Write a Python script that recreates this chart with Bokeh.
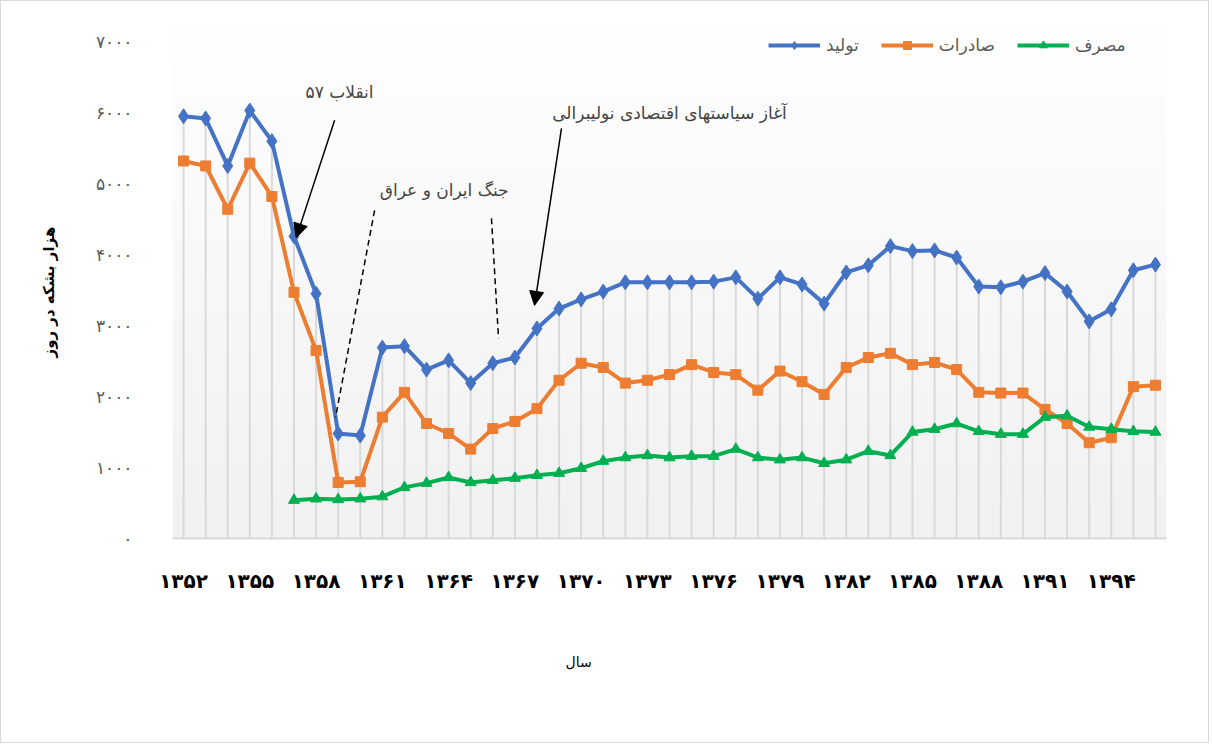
import numpy as np
from bokeh.plotting import figure
from bokeh.models import (Legend, LegendItem, Label, Arrow, NormalHead, Range1d,
                          FixedTicker, Title)
from bokeh.embed import file_html
from bokeh.resources import INLINE

# ---------------- data ----------------
years = [1352, 1353, 1354, 1355, 1356, 1357, 1358, 1359, 1360, 1361, 1362, 1363,
         1364, 1365, 1366, 1367, 1368, 1369, 1370, 1371, 1372, 1373, 1374, 1375,
         1376, 1377, 1378, 1379, 1380, 1381, 1382, 1383, 1384, 1385, 1386, 1387,
         1388, 1389, 1390, 1391, 1392, 1393, 1394, 1395, 1396]
production = [5950, 5920, 5250, 6030, 5600, 4260, 3450, 1480, 1450, 2690, 2710, 2380,
              2510, 2190, 2470, 2550, 2960, 3240, 3370, 3480, 3610, 3610, 3610, 3610,
              3620, 3680, 3380, 3680, 3580, 3310, 3750, 3850, 4120, 4050, 4060, 3960,
              3550, 3540, 3620, 3740, 3480, 3060, 3230, 3780, 3860]
exports = [5320, 5250, 4640, 5290, 4820, 3470, 2650, 790, 800, 1710, 2060, 1620,
           1480, 1260, 1550, 1650, 1830, 2230, 2470, 2410, 2190, 2230, 2310, 2450,
           2340, 2310, 2090, 2360, 2210, 2030, 2410, 2550, 2610, 2450, 2480, 2380,
           2060, 2050, 2050, 1820, 1620, 1350, 1420, 2140, 2160]
consumption_years = [1357, 1358, 1359, 1360, 1361, 1362, 1363, 1364, 1365, 1366,
                     1367, 1368, 1369, 1370, 1371, 1372, 1373, 1374, 1375, 1376,
                     1377, 1378, 1379, 1380, 1381, 1382, 1383, 1384, 1385, 1386,
                     1387, 1388, 1389, 1390, 1391, 1392, 1393, 1394, 1395, 1396]
consumption = [540, 560, 550, 560, 590, 720, 780, 860, 790, 820,
               850, 890, 920, 990, 1090, 1140, 1170, 1140, 1160, 1160,
               1260, 1140, 1110, 1140, 1060, 1110, 1230, 1170, 1500, 1540,
               1620, 1510, 1470, 1470, 1710, 1730, 1570, 1540, 1510, 1500]

series_names = ["تولید", "صادرات", "مصرف"]
x_tick_values = [1352, 1355, 1358, 1361, 1364, 1367, 1370, 1373, 1376, 1379,
                 1382, 1385, 1388, 1391, 1394]
x_tick_labels = ["۱۳۵۲", "۱۳۵۵", "۱۳۵۸", "۱۳۶۱", "۱۳۶۴", "۱۳۶۷", "۱۳۷۰", "۱۳۷۳",
                 "۱۳۷۶", "۱۳۷۹", "۱۳۸۲", "۱۳۸۵", "۱۳۸۸", "۱۳۹۱", "۱۳۹۴"]
y_tick_values = [0, 1000, 2000, 3000, 4000, 5000, 6000, 7000]
y_tick_labels = ["۰", "۱۰۰۰", "۲۰۰۰", "۳۰۰۰", "۴۰۰۰", "۵۰۰۰", "۶۰۰۰", "۷۰۰۰"]
y_axis_title = "هزار بشکه در روز"
x_axis_title = "سال"
note_revolution = "انقلاب ۵۷"
note_war = "جنگ ایران و عراق"
note_neoliberal = "آغاز سیاستهای اقتصادی نولیبرالی"

FA = "DejaVu Sans"
Y_TOP = 7300

# ---------------- figure ----------------
p = figure(width=1209, height=743,
           x_range=Range1d(1351.5, 1396.5), y_range=Range1d(0, Y_TOP),
           output_backend="svg", toolbar_location=None,
           min_border_left=171, min_border_right=44,
           min_border_top=19, min_border_bottom=206)
p.outline_line_color = None
p.xgrid.grid_line_color = None
p.ygrid.grid_line_color = None
p.background_fill_color = "white"
p.border_fill_color = "white"
p.styles = {"border": "1px solid #d9d9d9"}

# plot-area gradient (white at top to light grey at bottom)
n = 200
g = np.linspace(241, 255, n).astype(np.uint8)
img = np.empty((n, 1), dtype=np.uint32)
view = img.view(dtype=np.uint8).reshape((n, 1, 4))
view[:, 0, 0] = g
view[:, 0, 1] = g
view[:, 0, 2] = g
view[:, 0, 3] = 255
p.image_rgba(image=[img], x=1351.5, y=0, dw=45, dh=Y_TOP, level="image")

# drop lines
p.segment(x0=years, y0=[0] * len(years), x1=years, y1=production,
          line_color="#d9d9d9", line_width=2)

BLUE, ORANGE, GREEN = "#4472C4", "#ED7D31", "#00B050"

l1 = p.line(years, production, line_color=BLUE, line_width=4)
m1 = p.scatter(years, production, marker="diamond", size=15, color=BLUE)
l2 = p.line(years, exports, line_color=ORANGE, line_width=4)
m2 = p.scatter(years, exports, marker="square", size=10, color=ORANGE)
l3 = p.line(consumption_years, consumption, line_color=GREEN, line_width=4)
m3 = p.scatter(consumption_years, consumption, marker="triangle", size=11, color=GREEN)

legend = Legend(items=[LegendItem(label=series_names[0], renderers=[l1, m1]),
                       LegendItem(label=series_names[1], renderers=[l2, m2]),
                       LegendItem(label=series_names[2], renderers=[l3, m3])],
                orientation="horizontal", location=(596, 483),
                glyph_width=52, glyph_height=20, label_height=20,
                label_standoff=6, spacing=22, padding=0, margin=0,
                border_line_color=None, background_fill_alpha=0,
                label_text_font_size="17px", label_text_color="#595959",
                label_text_font=FA)
p.add_layout(legend, "center")

# axes
p.yaxis.ticker = FixedTicker(ticks=y_tick_values)
p.yaxis.major_label_overrides = dict(zip(y_tick_values, y_tick_labels))
p.yaxis.major_label_text_font_size = "17px"
p.yaxis.major_label_text_color = "#595959"
p.yaxis.major_label_text_font = FA
p.yaxis.axis_line_color = None
p.yaxis.major_tick_line_color = None
p.yaxis.minor_tick_line_color = None
p.yaxis.major_label_standoff = 34

# y-axis title as a side title so it can be centred on the 0-7000 span
p.add_layout(Title(text=y_axis_title, align="left", offset=181, standoff=69,
                   text_font=FA, text_font_size="15px", text_font_style="bold",
                   text_color="black"), "left")

p.xaxis.ticker = FixedTicker(ticks=x_tick_values)
p.xaxis.major_label_overrides = dict(zip(x_tick_values, x_tick_labels))
p.xaxis.major_label_text_font_size = "20px"
p.xaxis.major_label_text_font_style = "bold"
p.xaxis.major_label_text_color = "black"
p.xaxis.major_label_text_font = FA
p.xaxis.axis_line_color = "#d9d9d9"
p.xaxis.axis_line_width = 2
p.xaxis.major_tick_line_color = None
p.xaxis.minor_tick_line_color = None
p.xaxis.major_label_standoff = 24

# x-axis title (placed left of centre, as in the original)
p.add_layout(Title(text=x_axis_title, align="left", offset=393, standoff=112,
                   text_font=FA, text_font_size="14px", text_font_style="normal",
                   text_color="black"), "below")

# annotations
p.add_layout(Label(x=1359.06, y=6290, text=note_revolution, text_font=FA,
                   text_font_size="17px", text_align="center", text_baseline="middle"))
p.add_layout(Arrow(x_start=1358.84, y_start=5894, x_end=1357.1, y_end=4240,
                   line_width=1.5, line_color="black",
                   end=NormalHead(size=14, fill_color="black", line_color="black")))

p.add_layout(Label(x=1363.8, y=4907, text=note_war, text_font=FA,
                   text_font_size="17px", text_align="center", text_baseline="middle"))
p.segment(x0=[1360.65, 1365.94], y0=[4625, 4512], x1=[1358.88, 1366.26], y1=[1706, 2820],
          line_color="black", line_width=1.5, line_dash="6 4")

p.add_layout(Label(x=1374.0, y=5993, text=note_neoliberal, text_font=FA,
                   text_font_size="17px", text_align="center", text_baseline="middle"))
p.add_layout(Arrow(x_start=1369.11, y_start=5781, x_end=1367.89, y_end=3285,
                   line_width=1.5, line_color="black",
                   end=NormalHead(size=14, fill_color="black", line_color="black")))

open("out.html", "w").write(file_html(p, INLINE))
